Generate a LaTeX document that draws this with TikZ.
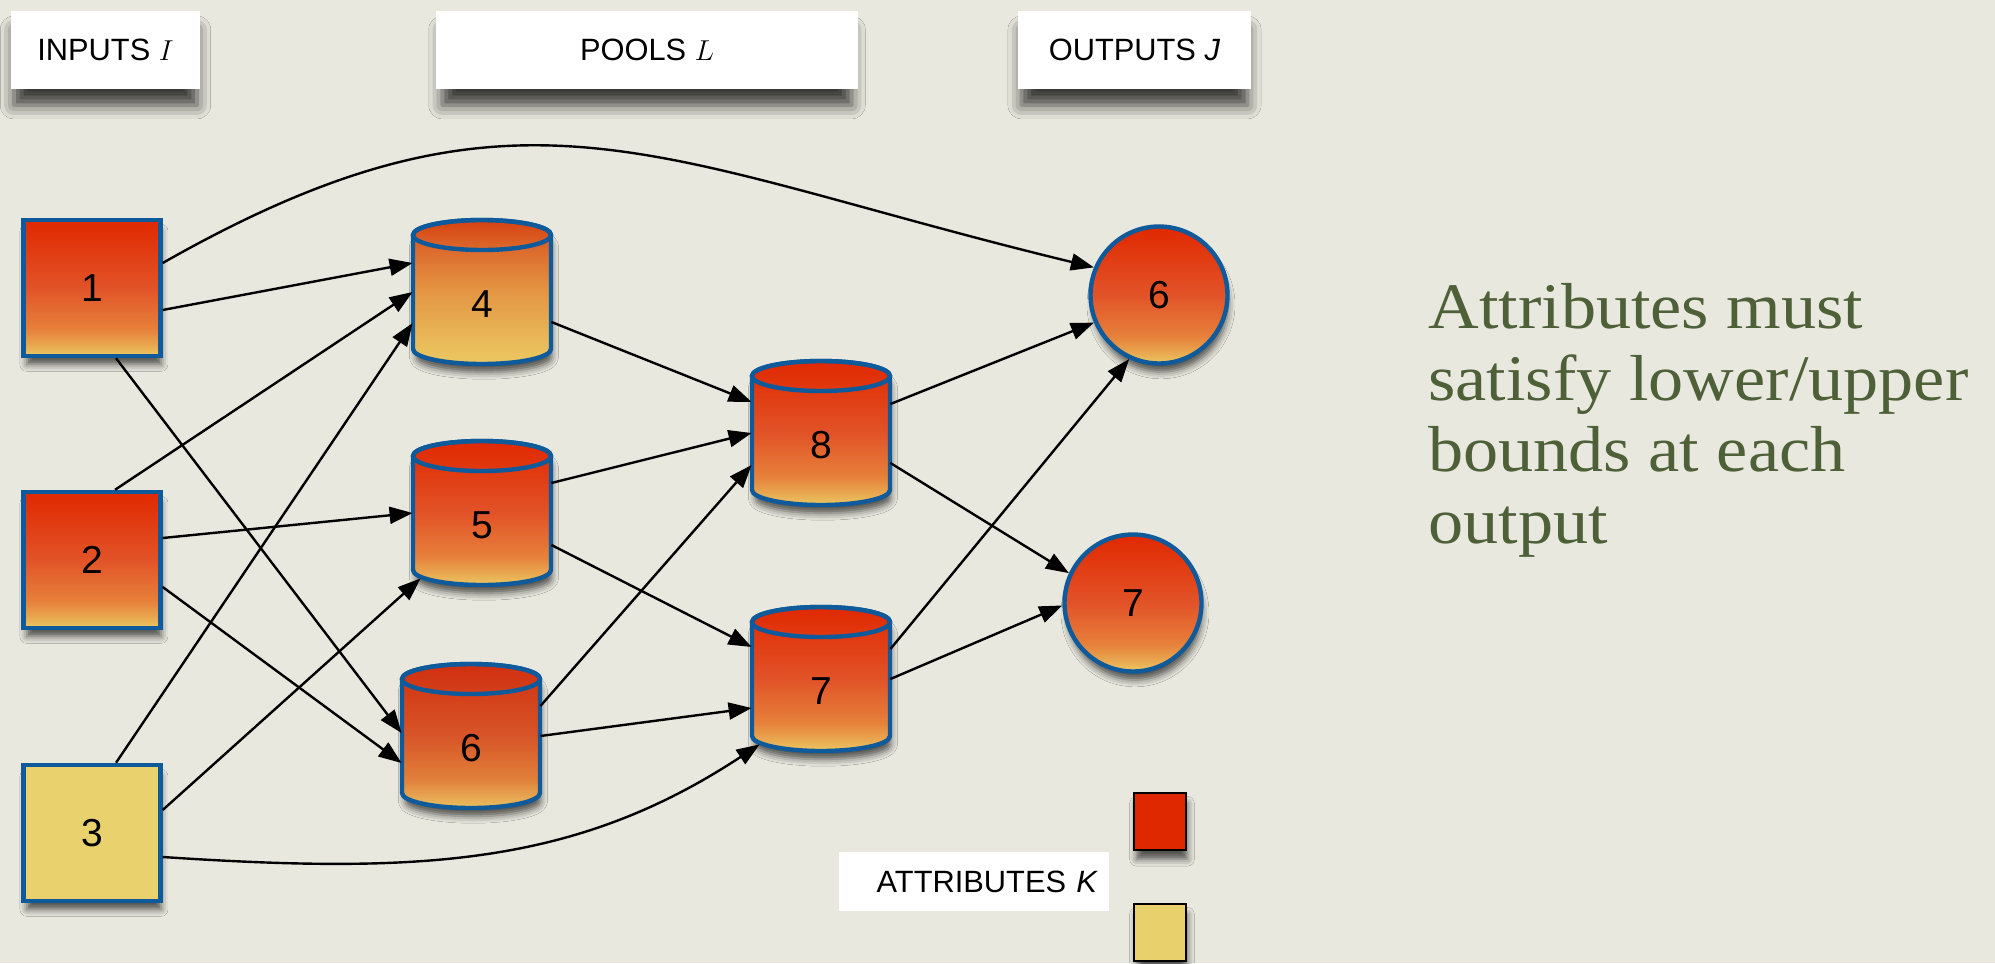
\documentclass[tikz,border=0pt]{standalone}
\usepackage{fontspec}
\setmainfont{Liberation Sans}
\newfontfamily\rfont[FakeStretch=1.08]{Liberation Serif}
\usetikzlibrary{arrows.meta,calc,shadows.blur}
\definecolor{bg}{HTML}{E9E8DF}
\definecolor{bblue}{HTML}{0E5A9A}
\definecolor{txtgreen}{HTML}{4E6037}
\definecolor{legR}{HTML}{DF2800}
\definecolor{legY}{HTML}{E8D06C}
\definecolor{yelbox}{HTML}{E9D16E}
% standard red -> yellow
\definecolor{rY}{HTML}{EAC862}
\definecolor{rA}{HTML}{E9A850}
\definecolor{rB}{HTML}{E6803A}
\definecolor{rC}{HTML}{E25328}
\definecolor{rD}{HTML}{E02800}
% orange (pool 4)
\definecolor{oY}{HTML}{EBC862}
\definecolor{oA}{HTML}{E9BC5A}
\definecolor{oB}{HTML}{E49644}
\definecolor{oC}{HTML}{DC6A2C}
\definecolor{oD}{HTML}{D64010}
% dark (pool 6)
\definecolor{dY}{HTML}{EAC060}
\definecolor{dA}{HTML}{E0803A}
\definecolor{dB}{HTML}{D85528}
\definecolor{dC}{HTML}{D03010}
\pgfdeclareverticalshading{shR}{100bp}{color(0bp)=(rY); color(25bp)=(rY); color(29bp)=(rA); color(35bp)=(rB); color(50bp)=(rC); color(75bp)=(rD); color(100bp)=(rD)}
\pgfdeclareverticalshading{shO}{100bp}{color(0bp)=(oY); color(25bp)=(oY); color(32bp)=(oA); color(50bp)=(oB); color(65bp)=(oC); color(75bp)=(oD); color(100bp)=(oD)}
\pgfdeclareverticalshading{shD}{100bp}{color(0bp)=(dY); color(25bp)=(dY); color(35bp)=(dA); color(50bp)=(dB); color(75bp)=(dC); color(100bp)=(dC)}
\newcommand\poolcyl[5]{%
  \path[nodeshadow, shade, shading=#5, draw=bblue, line width=2.2pt]
    (#2-69,#3-57) -- (#2-69,#3+57)
    arc[start angle=180,end angle=360,x radius=34.5pt,y radius=7.5pt]
    -- (#2+69,#3-57)
    arc[start angle=0,end angle=180,x radius=34.5pt,y radius=7.5pt] -- cycle;
  \draw[bblue, line width=2.2pt] (#2,#3-57) ellipse[x radius=34.5pt, y radius=7.5pt];
  \node[pool] (#1) at (#2,#3) {#4};
}
\begin{document}
\begin{tikzpicture}[x=0.5pt,y=-0.5pt,
  nodeshadow/.style={blur shadow={shadow xshift=1pt, shadow yshift=-5pt, shadow blur radius=3.5pt, shadow opacity=65, shadow scale=0.98}},
  hdr/.style={fill=white, minimum height=39pt, inner sep=0pt, font=\fontsize{15.4}{18}\selectfont,
    blur shadow={shadow xshift=0pt, shadow yshift=-9pt, shadow blur radius=7pt, shadow opacity=75, shadow scale=0.97}},
  sq/.style={draw=bblue, line width=2.2pt, minimum width=68.5pt, minimum height=68pt, inner sep=0pt,
    font=\fontsize{19.5}{20}\selectfont, nodeshadow},
  pool/.style={rectangle, minimum width=69pt, minimum height=72pt, inner sep=0pt,
    font=\fontsize{19.5}{20}\selectfont, text height=25pt, text depth=0pt},
  outc/.style={circle, draw=bblue, line width=2.2pt, minimum size=68.5pt, inner sep=0pt,
    font=\fontsize{19.5}{20}\selectfont, nodeshadow},
  legsq/.style={draw=black, line width=1.2pt, minimum width=26pt, minimum height=28.5pt, inner sep=0pt, nodeshadow},
  conn/.style={draw=black, line width=1.2pt, -{Triangle[length=11.5pt,width=8.5pt,fill=black]}}
]
\fill[bg] (0,0) rectangle (1995,963);
\useasboundingbox (0,0) rectangle (1995,963);

% headers
\node[hdr, minimum width=94.5pt] (hI) at (105.5,50) {INPUTS $I$};
\node[hdr, minimum width=211pt] (hL) at (647,50) {POOLS $L$};
\node[hdr, minimum width=116.5pt] (hJ) at (1134.5,50) {OUTPUTS \textit{J}};

% inputs
\node[sq, shade, shading=shR] (b1) at (92,288) {1};
\node[sq, shade, shading=shR] (b2) at (92,560) {2};
\node[sq, fill=yelbox] (b3) at (92,833) {3};

% pools
\poolcyl{p4}{482}{292}{4}{shO}
\poolcyl{p5}{482}{513}{5}{shR}
\poolcyl{p6}{471}{736}{6}{shD}
\poolcyl{p8}{821}{433}{8}{shR}
\poolcyl{p7}{821}{679}{7}{shR}

% outputs
\node[outc, shade, shading=shR] (o6) at (1159,295) {6};
\node[outc, shade, shading=shR] (o7) at (1133,603) {7};

% legend
\node[fill=white, minimum width=135pt, minimum height=29.5pt, inner sep=0pt, text width=124pt, align=right,
  font=\fontsize{15.4}{18}\selectfont] (attrK) at (974,881.5) {ATTRIBUTES \textit{K}};
\node[legsq, fill=legR] (kR) at (1160,821.5) {};
\node[legsq, fill=legY] (kY) at (1160,932.5) {};

% note
\node[anchor=north west, align=left, text=txtgreen, inner sep=0pt,
  font=\rfont\fontsize{32.5}{35.8}\selectfont] (note) at (1428,283)
  {Attributes must\\satisfy lower/upper\\bounds at each\\output};

% connectors
\draw[conn] ([shift={(0,-25)}]b1.east) .. controls (520,60) and (650,160) .. (o6.157);
\draw[conn] ([shift={(0,22)}]b1.east) -- ([shift={(0,-29)}]p4.west);
\draw[conn] ([shift={(24,0)}]b1.south) -- ([shift={(0,-3)}]p6.west);
\draw[conn] ([shift={(23,0)}]b2.north) -- (p4.west);
\draw[conn] ([shift={(0,-22)}]b2.east) -- (p5.west);
\draw[conn] ([shift={(0,27)}]b2.east) -- ([shift={(0,27)}]p6.west);
\draw[conn] ([shift={(24,0)}]b3.north) -- ([shift={(0,31)}]p4.west);
\draw[conn] ([shift={(0,-23)}]b3.east) -- ([shift={(8,-7)}]p5.south west);
\draw[conn] ([shift={(0,24)}]b3.east) .. controls (420,874) and (575,866) .. ([shift={(8,-7)}]p7.south west);
\draw[conn] ([shift={(0,30)}]p4.east) -- ([shift={(0,-31)}]p8.west);
\draw[conn] ([shift={(0,-30)}]p5.east) -- (p8.west);
\draw[conn] ([shift={(0,32)}]p5.east) -- ([shift={(0,-32)}]p7.west);
\draw[conn] ([shift={(0,-30)}]p6.east) -- ([shift={(0,32)}]p8.west);
\draw[conn] (p6.east) -- ([shift={(0,29)}]p7.west);
\draw[conn] ([shift={(0,-29)}]p8.east) -- (o6.203);
\draw[conn] ([shift={(0,30)}]p8.east) -- (o7.155);
\draw[conn] ([shift={(0,-30)}]p7.east) -- (o6.245);
\draw[conn] (p7.east) -- (o7.182);
\end{tikzpicture}
\end{document}
